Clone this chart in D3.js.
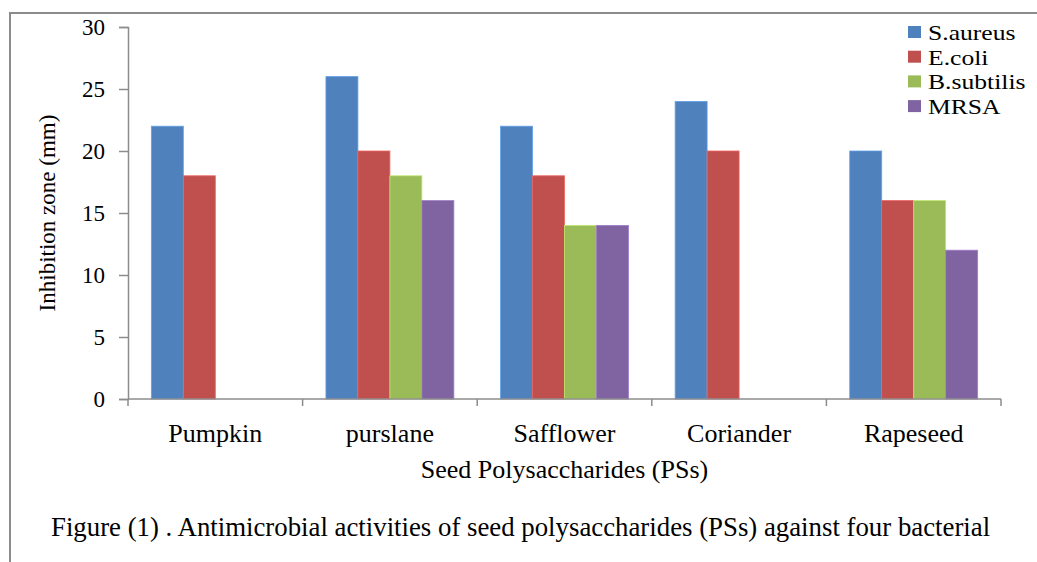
<!DOCTYPE html>
<html>
<head>
<meta charset="utf-8">
<script src="https://cdn.jsdelivr.net/npm/d3@7"></script>
<style>
  body { margin: 0; background: #fff; }
  svg { display: block; font-family: 'Liberation Serif', 'Times New Roman', serif; }
</style>
</head>
<body>
<div id="chart"></div>
<script>
// data
const categories = ['Pumpkin', 'purslane', 'Safflower', 'Coriander', 'Rapeseed'];
const seriesNames = ['S.aureus', 'E.coli', 'B.subtilis', 'MRSA'];
const sAureus = [22, 26, 22, 24, 20];
const eColi = [18, 20, 18, 20, 16];
const bSubtilis = [null, 18, 14, null, 16];
const mrsa = [null, 16, 14, null, 12];
const yTicks = [0, 5, 10, 15, 20, 25, 30];
const colors = ['#4f81bd', '#c0504d', '#9bbb59', '#8064a2'];

const seriesValues = [sAureus, eColi, bSubtilis, mrsa];
const width = 1037, height = 562;
const margin = { top: 27, right: 36, bottom: 163, left: 128 };

const svg = d3.select('#chart').append('svg')
  .attr('width', width)
  .attr('height', height);

// frame around the figure
svg.append('path')
  .attr('d', `M10,${height} V13 H${width}`)
  .attr('fill', 'none')
  .attr('stroke', '#8c8c8c')
  .attr('stroke-width', 2);

const x = d3.scaleBand()
  .domain(categories)
  .range([margin.left, width - margin.right]);
const x1 = d3.scaleBand()
  .domain(seriesNames)
  .range([0, x.bandwidth()])
  .paddingOuter(0.73);
const y = d3.scaleLinear()
  .domain([0, 30])
  .range([height - margin.bottom, margin.top]);

// bars
const rows = [];
categories.forEach((c, i) => {
  seriesNames.forEach((s, j) => {
    if (seriesValues[j][i] != null) rows.push({ cat: c, name: s, value: seriesValues[j][i], k: j });
  });
});
svg.append('g').selectAll('rect')
  .data(rows)
  .enter().append('rect')
  .attr('x', d => x(d.cat) + x1(d.name))
  .attr('y', d => y(d.value))
  .attr('width', x1.bandwidth())
  .attr('height', d => y(0) - y(d.value))
  .attr('fill', d => colors[d.k])
  .attr('stroke', d => d3.color(colors[d.k]).brighter(0.6))
  .attr('stroke-width', 0.8);

// y axis
const yAxis = svg.append('g')
  .attr('transform', `translate(${margin.left},0)`)
  .call(d3.axisLeft(y).tickValues(yTicks).tickSize(9).tickPadding(14));
yAxis.selectAll('line, path').attr('stroke', '#8c8c8c').attr('stroke-width', 1.5);
yAxis.selectAll('text').attr('font-size', 23).attr('fill', '#000').attr('font-family', 'Liberation Serif');

// x axis: ticks at group boundaries
const xAxis = svg.append('g')
  .attr('transform', `translate(0,${y(0)})`);
xAxis.append('line')
  .attr('x1', margin.left).attr('x2', width - margin.right)
  .attr('stroke', '#8c8c8c').attr('stroke-width', 1.5);
const bounds = categories.map(c => x(c)).concat([x.range()[1]]);
xAxis.selectAll('.tk')
  .data(bounds)
  .enter().append('line')
  .attr('x1', d => d).attr('x2', d => d)
  .attr('y1', 0).attr('y2', 7)
  .attr('stroke', '#8c8c8c').attr('stroke-width', 1.5);
xAxis.selectAll('.lbl')
  .data(categories)
  .enter().append('text')
  .attr('x', d => x(d) + x.bandwidth() / 2)
  .attr('y', 43)
  .attr('text-anchor', 'middle')
  .attr('font-size', 26)
  .text(d => d);

// axis titles
svg.append('text')
  .attr('x', x.range()[0] + (x.range()[1] - x.range()[0]) / 2)
  .attr('y', 478)
  .attr('text-anchor', 'middle')
  .attr('font-size', 26)
  .text('Seed Polysaccharides (PSs)');
svg.append('text')
  .attr('transform', `translate(55,${(y(0) + y(30)) / 2}) rotate(-90)`)
  .attr('text-anchor', 'middle')
  .attr('font-size', 23)
  .text('Inhibition zone (mm)');

// caption
svg.append('text')
  .attr('x', 51)
  .attr('y', 536)
  .attr('font-size', 26.8)
  .text('Figure (1) . Antimicrobial activities of seed polysaccharides (PSs) against four bacterial');

// legend (text squeezed vertically as in the figure)
const legend = svg.append('g').attr('transform', 'translate(908,26)');
const item = legend.selectAll('g')
  .data(seriesNames)
  .enter().append('g')
  .attr('transform', (d, i) => `translate(0,${i * 24.7})`);
item.append('rect')
  .attr('x', 0).attr('y', 0)
  .attr('width', 13).attr('height', 12)
  .attr('fill', (d, i) => colors[i]);
item.append('text')
  .attr('transform', 'translate(20,14) scale(1.22,1)')
  .attr('font-size', 21)
  .text(d => d);
</script>
</body>
</html>
